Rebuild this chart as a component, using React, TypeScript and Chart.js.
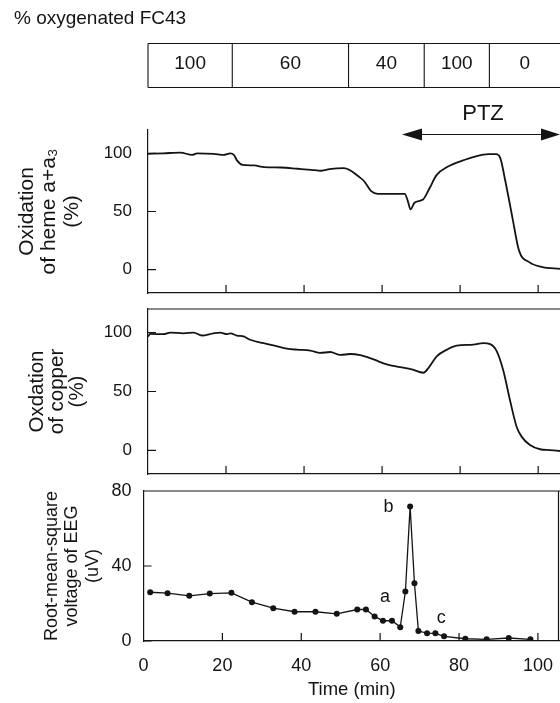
import React, { useEffect, useRef } from 'react';
import { Chart, registerables } from 'chart.js';

Chart.register(...registerables);

const FONT = '"Liberation Sans", Arial, Helvetica, sans-serif';
const INK = '#141414';

// ---- header ----
const headerTitle = '% oxygenated FC43';
const fc43Start = [0, 21.6, 51.4, 70.8, 87.5];
const fc43Level = ['100', '60', '40', '100', '0'];
const ptzLabel = 'PTZ';
const ptzStart = 65.1;

// ---- axes ----
const timeMax = 105.6;
const timeTicks = [0, 20, 40, 60, 80, 100];
const pctTicks = [0, 50, 100];
const eegTicks = [0, 40, 80];

const hemeTitle = ['Oxidation', 'of heme a+a\u2083', '(%)'];
const copperTitle = ['Oxdation', 'of copper', '(%)'];
const eegTitle = ['Root-mean-square', 'voltage of EEG', '(uV)'];
const timeTitle = 'Time (min)';

// ---- data ----
const hemeTime = [0, 4, 8.3, 11.3, 12.6, 16.9, 19.4, 21.1, 22, 22.9, 24.2, 27.2, 29.8, 34.1, 38.4, 41.8, 44.4, 47, 50.2, 52, 54, 55.4, 57.2, 58.9, 62.4, 65.8, 66.6, 67.3, 68.3, 70.5, 72.2, 73.9, 76.9, 80.4, 83.8, 87.3, 89.2, 90.3, 91.6, 93.4, 95.1, 97.7, 101.1, 105.6];
const hemeOx = [99.5, 100, 100.6, 98.6, 100, 99.5, 98.6, 100, 98.6, 93.5, 90.1, 89.6, 88.1, 87.8, 86.7, 85.8, 85.0, 86.7, 87.2, 85, 80, 76, 67.5, 65.2, 65.2, 65.2, 58.9, 51.8, 57.5, 60.3, 70.2, 81, 88.6, 93.5, 97.2, 99.2, 99.2, 95.8, 76, 44.8, 16.4, 6.5, 2.3, 0.8];

const copperTime = [0, 0.6, 4, 5.7, 9.1, 11.7, 13.8, 16.8, 18.5, 20.2, 21.1, 22.8, 24.5, 26.2, 29.6, 33.1, 35.6, 38.2, 41.6, 44.1, 46.7, 49.3, 51.8, 54.4, 57.8, 61.2, 64.6, 67.6, 70.6, 71.9, 74, 76.6, 79.1, 83.4, 85.9, 87.7, 89.4, 91.1, 92.8, 94.5, 95.8, 97.9, 100.5, 103, 105.6];
const copperOx = [96.7, 98.9, 98.6, 100, 99.4, 100, 97.5, 99.4, 100, 98.6, 99.4, 97.5, 96.7, 93.9, 91, 88.3, 86.4, 85.5, 84.7, 82.7, 83.5, 81, 81.8, 80.8, 77.2, 73, 70.7, 68.8, 65.9, 70.1, 79.9, 85.5, 88.9, 89.7, 91, 90.2, 84.1, 67.4, 42.3, 19.9, 11.5, 4.6, 1, 0.3, -0.5];

const eegTime = [1.7, 6.1, 11.6, 16.8, 22.3, 27.5, 32.9, 38.3, 43.6, 49.0, 54.2, 56.4, 58.6, 60.7, 63.0, 65.1, 66.4, 67.6, 68.7, 69.7, 71.9, 74.0, 76.2, 81.6, 87.0, 92.6, 98.1];
const eegRms = [26.0, 25.5, 24.1, 25.3, 25.7, 20.7, 17.5, 15.6, 15.6, 14.5, 16.8, 16.8, 13.1, 10.8, 10.8, 7.4, 26.4, 71.7, 30.8, 5.3, 4.2, 4.1, 2.5, 1.2, 0.9, 1.6, 0.9];

const eegMarkText = ['a', 'b', 'c'];
const eegMarkTime = [61.2, 62.1, 75.5];
const eegMarkValue = [23.4, 71.2, 12.2];

const toPoints = (xs: number[], ys: number[]) => xs.map((x, i) => ({ x, y: ys[i] }));

type DecorOpts = {
  yTicks: number[];
  topBorder: boolean;
  rightBorder: boolean;
  extra?: (chart: any) => void;
};

function makeDecor(o: DecorOpts) {
  return {
    id: 'panelDecor',
    afterDraw(chart: any) {
      const { ctx, chartArea: ca, scales } = chart;
      const x = scales.x;
      const y = scales.y;
      ctx.save();
      ctx.strokeStyle = INK;
      ctx.lineWidth = 1.2;
      ctx.beginPath();
      timeTicks.forEach((v) => {
        if (v <= x.min) return;
        const px = x.getPixelForValue(v);
        ctx.moveTo(px, ca.bottom);
        ctx.lineTo(px, ca.bottom - 8);
      });
      o.yTicks.forEach((v) => {
        const py = y.getPixelForValue(v);
        ctx.moveTo(ca.left, py);
        ctx.lineTo(ca.left + 8, py);
      });
      if (o.topBorder) {
        ctx.moveTo(ca.left, ca.top);
        ctx.lineTo(ca.right, ca.top);
      }
      if (o.rightBorder) {
        ctx.moveTo(ca.right - 1.5, ca.top);
        ctx.lineTo(ca.right - 1.5, ca.bottom);
      }
      ctx.stroke();
      if (o.extra) o.extra(chart);
      ctx.restore();
    },
  };
}

function drawHeader(chart: any) {
  const { ctx, chartArea: ca, scales } = chart;
  const x = scales.x;
  ctx.fillStyle = INK;
  ctx.strokeStyle = INK;
  ctx.font = `19px ${FONT}`;
  ctx.textAlign = 'left';
  ctx.textBaseline = 'alphabetic';
  ctx.fillText(headerTitle, 14, 24);

  const top = 43.5;
  const bottom = 87.5;
  const edges = fc43Start.map((v) => x.getPixelForValue(v));
  ctx.lineWidth = 1.1;
  ctx.beginPath();
  ctx.moveTo(edges[0], top);
  ctx.lineTo(ca.right, top);
  ctx.moveTo(edges[0], bottom);
  ctx.lineTo(ca.right, bottom);
  edges.forEach((e) => {
    ctx.moveTo(e, top);
    ctx.lineTo(e, bottom);
  });
  ctx.stroke();
  ctx.textAlign = 'center';
  ctx.textBaseline = 'middle';
  fc43Level.forEach((lab, i) => {
    const l = edges[i];
    const r = i + 1 < edges.length ? edges[i + 1] : ca.right;
    ctx.fillText(lab, (l + r) / 2, 64);
  });

  // PTZ arrow
  const ay = 134.5;
  const ax0 = x.getPixelForValue(ptzStart);
  const ax1 = ca.right;
  ctx.lineWidth = 1.2;
  ctx.beginPath();
  ctx.moveTo(ax0 + 10, ay);
  ctx.lineTo(ax1 - 10, ay);
  ctx.stroke();
  ctx.beginPath();
  ctx.moveTo(ax0, ay);
  ctx.lineTo(ax0 + 20, ay - 6);
  ctx.lineTo(ax0 + 20, ay + 6);
  ctx.closePath();
  ctx.moveTo(ax1, ay);
  ctx.lineTo(ax1 - 19, ay - 6);
  ctx.lineTo(ax1 - 19, ay + 6);
  ctx.closePath();
  ctx.fill();
  ctx.font = `22px ${FONT}`;
  ctx.fillText(ptzLabel, (ax0 + ax1) / 2 + 2, 114);
}

function drawEegMarks(chart: any) {
  const { ctx, scales } = chart;
  ctx.fillStyle = INK;
  ctx.font = `18px ${FONT}`;
  ctx.textAlign = 'center';
  ctx.textBaseline = 'middle';
  eegMarkText.forEach((t, i) => {
    ctx.fillText(t, scales.x.getPixelForValue(eegMarkTime[i]), scales.y.getPixelForValue(eegMarkValue[i]));
  });
}

type PanelOpts = {
  datasets: any[];
  yMin: number;
  yMax: number;
  yTicks: number[];
  left: number;
  padTop: number;
  padBottom: number;
  title: string[];
  titleSize: number;
  titleLine: number;
  titlePad: number;
  tickSize: number;
  tickPad: number;
  bottomAxis: boolean;
  decor: any;
};

function panelConfig(p: PanelOpts): any {
  const xScale: any = {
    type: 'linear',
    min: 0,
    max: timeMax,
    grid: { display: false, drawTicks: false },
    border: { display: true, color: INK, width: 1.2 },
  };
  if (p.bottomAxis) {
    xScale.afterBuildTicks = (s: any) => {
      s.ticks = timeTicks.map((v) => ({ value: v }));
    };
    xScale.afterFit = (s: any) => {
      s.height = 62;
      s.paddingLeft = 0;
      s.paddingRight = 0;
    };
    xScale.ticks = {
      color: INK,
      font: { family: FONT, size: 18 },
      padding: 14,
      maxRotation: 0,
      autoSkip: false,
    };
    xScale.title = {
      display: true,
      text: timeTitle,
      color: INK,
      font: { family: FONT, size: 18.5, lineHeight: 1.2 },
      padding: { top: 0, bottom: 2 },
    };
  } else {
    xScale.afterFit = (s: any) => {
      s.height = 0;
      s.paddingLeft = 0;
      s.paddingRight = 0;
    };
    xScale.ticks = { display: false };
  }
  return {
    type: 'line',
    data: { datasets: p.datasets },
    options: {
      responsive: false,
      animation: false,
      events: [],
      layout: { autoPadding: false, padding: { top: p.padTop, bottom: p.padBottom, left: 0, right: 0 } },
      plugins: { legend: { display: false }, tooltip: { enabled: false } },
      scales: {
        x: xScale,
        y: {
          type: 'linear',
          min: p.yMin,
          max: p.yMax,
          afterBuildTicks: (s: any) => {
            s.ticks = p.yTicks.map((v) => ({ value: v }));
          },
          afterFit: (s: any) => {
            s.width = p.left;
            s.paddingTop = 0;
            s.paddingBottom = 0;
          },
          grid: { display: false, drawTicks: false },
          border: { display: true, color: INK, width: 1.2 },
          ticks: { color: INK, font: { family: FONT, size: p.tickSize }, padding: p.tickPad },
          title: {
            display: true,
            text: p.title,
            color: INK,
            font: { family: FONT, size: p.titleSize, lineHeight: `${p.titleLine}px` },
            padding: { top: p.titlePad, bottom: 0 },
          },
        },
      },
    },
    plugins: [p.decor],
  };
}

const curveStyle = {
  borderColor: INK,
  borderWidth: 1.8,
  pointRadius: 0,
  fill: false,
  cubicInterpolationMode: 'monotone',
};

export default function App() {
  const r1 = useRef<HTMLCanvasElement>(null);
  const r2 = useRef<HTMLCanvasElement>(null);
  const r3 = useRef<HTMLCanvasElement>(null);

  useEffect(() => {
    const c1 = new Chart(
      r1.current as HTMLCanvasElement,
      panelConfig({
        datasets: [{ ...curveStyle, data: toPoints(hemeTime, hemeOx) }],
        yMin: -20,
        yMax: 120,
        yTicks: pctTicks,
        left: 148,
        padTop: 130,
        padBottom: 7,
        title: hemeTitle,
        titleSize: 21,
        titleLine: 22.5,
        titlePad: 15.5,
        tickSize: 17,
        tickPad: 16,
        bottomAxis: false,
        decor: makeDecor({ yTicks: pctTicks, topBorder: false, rightBorder: false, extra: drawHeader }),
      })
    );
    const c2 = new Chart(
      r2.current as HTMLCanvasElement,
      panelConfig({
        datasets: [{ ...curveStyle, data: toPoints(copperTime, copperOx) }],
        yMin: -20,
        yMax: 120,
        yTicks: pctTicks,
        left: 148,
        padTop: 9,
        padBottom: 6,
        title: copperTitle,
        titleSize: 20.5,
        titleLine: 20,
        titlePad: 27,
        tickSize: 17,
        tickPad: 16,
        bottomAxis: false,
        decor: makeDecor({ yTicks: pctTicks, topBorder: true, rightBorder: false }),
      })
    );
    const c3 = new Chart(
      r3.current as HTMLCanvasElement,
      panelConfig({
        datasets: [
          {
            data: toPoints(eegTime, eegRms),
            borderColor: INK,
            borderWidth: 1.3,
            pointRadius: 3,
            pointBackgroundColor: INK,
            pointBorderWidth: 0,
            tension: 0,
            fill: false,
          },
        ],
        yMin: 0,
        yMax: 80,
        yTicks: eegTicks,
        left: 143.5,
        padTop: 11,
        padBottom: 0,
        title: eegTitle,
        titleSize: 18,
        titleLine: 20.5,
        titlePad: 41.5,
        tickSize: 18,
        tickPad: 12,
        bottomAxis: true,
        decor: makeDecor({ yTicks: eegTicks, topBorder: true, rightBorder: true, extra: drawEegMarks }),
      })
    );
    return () => {
      c1.destroy();
      c2.destroy();
      c3.destroy();
    };
  }, []);

  return (
    <div
      style={{
        position: 'absolute',
        left: 0,
        top: 0,
        width: 560,
        height: 703,
        background: '#fff',
        overflow: 'hidden',
      }}
    >
      <canvas ref={r1} width={560} height={300} style={{ position: 'absolute', left: 0, top: 0 }} />
      <canvas ref={r2} width={560} height={180} style={{ position: 'absolute', left: 0, top: 300 }} />
      <canvas ref={r3} width={560} height={223} style={{ position: 'absolute', left: 0, top: 480 }} />
    </div>
  );
}
